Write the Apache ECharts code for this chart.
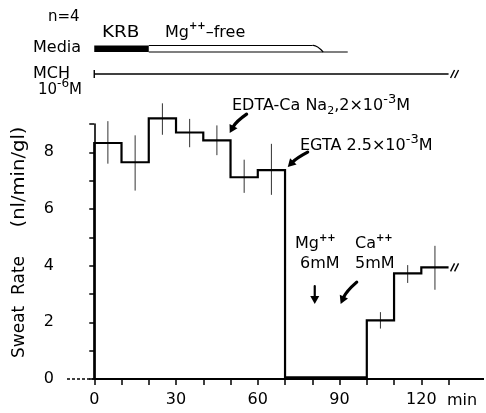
<!DOCTYPE html>
<html>
<head>
<meta charset="utf-8">
<script src="https://cdn.jsdelivr.net/npm/echarts@6/dist/echarts.min.js"></script>
<style>
  html, body { margin: 0; padding: 0; background: #fff; }
  #chart { width: 486px; height: 413px; }
</style>
</head>
<body>
<div id="chart"></div>
<script>
// Sweat rate per 10-min collection period (nl/min/gland), mean with error range
const binEdges  = [0, 10, 20, 30, 40, 50, 60, 70, 100, 110, 120, 130];
const sweatRate = [8.33, 7.65, 9.2, 8.7, 8.42, 7.12, 7.37, 0.06, 2.07, 3.73, 3.94];
const errUpper  = [9.1, 8.6, 9.73, 9.18, 8.95, 7.74, 8.3, null, 2.36, 4.02, 4.7];
const errLower  = [7.6, 6.65, 8.62, 8.18, 7.9, 6.57, 6.5, null, 1.78, 3.39, 3.15];

// Axis ticks and labels
const xTicks      = [0, 10, 20, 30, 40, 50, 60, 70, 80, 90, 100, 110, 120, 130];
const xTickLabels = [0, 30, 60, 90, 120];
const yTicks      = [0, 1, 2, 3, 4, 5, 6, 7, 8, 9];
const yTickLabels = [0, 2, 4, 6, 8];

// Bathing media and drug timeline (min)
const mediaPhases  = ['KRB', 'Mg-free'];
const mediaFrom    = [0, 20];
const mediaTo      = [20, 80];
const mediaWashout = [84, 93];   // end of taper, end of trailing line
const mchSpan      = [0, 130];

const FONT = 'DejaVu Sans';

// Step outline of the collection periods
const stepPoints = [[binEdges[0], 0]];
sweatRate.forEach((v, i) => {
  stepPoints.push([binEdges[i], v], [binEdges[i + 1], v]);
});

// Error bars at the middle of each period
const errData = [];
sweatRate.forEach((v, i) => {
  if (errUpper[i] != null) {
    errData.push([(binEdges[i] + binEdges[i + 1]) / 2, errLower[i], errUpper[i]]);
  }
});

function breakMark(x, y) {
  const children = [];
  for (let k = 0; k < 2; k++) {
    children.push({
      type: 'line',
      shape: { x1: x + 2 + k * 4, y1: y + 4, x2: x + 6 + k * 4, y2: y - 4 },
      style: { stroke: '#000', lineWidth: 1.4 }
    });
  }
  return children;
}

const chart = echarts.init(document.getElementById('chart'), null, { renderer: 'canvas' });

chart.setOption({
  animation: false,
  backgroundColor: '#fff',
  grid: [
    { left: 67, top: 124, width: 417, height: 255, containLabel: false, outerBoundsMode: 'none' },
    { left: 67, top: 49, width: 417, height: 25, containLabel: false, outerBoundsMode: 'none' }
  ],
  xAxis: [
    {
      type: 'value', gridIndex: 0, min: -10, max: 143,
      axisLine: { show: false },
      axisTick: { show: true, length: 6, customValues: xTicks, lineStyle: { color: '#000', width: 1.5 } },
      axisLabel: { customValues: xTickLabels, color: '#000', fontSize: 16, fontFamily: FONT, margin: 13 },
      splitLine: { show: false }
    },
    {
      type: 'value', gridIndex: 1, min: -10, max: 143, show: false
    }
  ],
  yAxis: [
    {
      type: 'value', gridIndex: 0, min: 0, max: 9,
      axisLine: { show: true, lineStyle: { color: '#000', width: 1.6 } },
      axisTick: { show: true, length: 5, customValues: yTicks, lineStyle: { color: '#000', width: 1.5 } },
      axisLabel: { customValues: yTickLabels, color: '#000', fontSize: 16, fontFamily: FONT, margin: 13 },
      splitLine: { show: false }
    },
    {
      type: 'value', gridIndex: 1, min: 0, max: 1, show: false
    }
  ],
  series: [
    // time axis: dotted before the start, solid after
    {
      type: 'line', xAxisIndex: 0, yAxisIndex: 0, clip: false, symbol: 'none', silent: true,
      data: [[-10, 0], [0, 0]],
      lineStyle: { color: '#000', width: 1.5, type: [3, 2] }
    },
    {
      type: 'line', xAxisIndex: 0, yAxisIndex: 0, clip: false, symbol: 'none', silent: true,
      data: [[0, 0], [143, 0]],
      lineStyle: { color: '#000', width: 2 }
    },
    // sweat rate step outline
    {
      type: 'line', xAxisIndex: 0, yAxisIndex: 0, clip: false, symbol: 'none',
      data: stepPoints,
      lineStyle: { color: '#000', width: 2.2, join: 'miter' }
    },
    // error bars
    {
      type: 'custom', xAxisIndex: 0, yAxisIndex: 0, clip: false,
      data: errData,
      renderItem: function (params, api) {
        const lo = api.coord([api.value(0), api.value(1)]);
        const hi = api.coord([api.value(0), api.value(2)]);
        return {
          type: 'line',
          shape: { x1: lo[0], y1: lo[1], x2: hi[0], y2: hi[1] },
          style: { stroke: '#333', lineWidth: 1 }
        };
      }
    },
    // break mark at the end of the record
    {
      type: 'custom', xAxisIndex: 0, yAxisIndex: 0, clip: false,
      data: [[binEdges[binEdges.length - 1], sweatRate[sweatRate.length - 1]]],
      renderItem: function (params, api) {
        const p = api.coord([api.value(0), api.value(1)]);
        return { type: 'group', children: breakMark(p[0], p[1]) };
      }
    },
    // media bar
    {
      type: 'custom', xAxisIndex: 1, yAxisIndex: 1, clip: false,
      data: mediaPhases.map((p, i) => [mediaFrom[i], mediaTo[i], i]),
      renderItem: function (params, api) {
        const a = api.coord([api.value(0), 1]);
        const b = api.coord([api.value(1), 1]);
        const top = a[1] - 3.5, bottom = a[1] + 3;
        if (api.value(2) === 0) {
          return {
            type: 'rect',
            shape: { x: a[0], y: top, width: b[0] - a[0], height: bottom - top },
            style: { fill: '#000' }
          };
        }
        const taper = api.coord([mediaWashout[0], 1])[0];
        const trail = api.coord([mediaWashout[1], 1])[0];
        return {
          type: 'group',
          children: [
            { type: 'line', shape: { x1: a[0], y1: top, x2: b[0], y2: top }, style: { stroke: '#000', lineWidth: 1.2 } },
            { type: 'bezierCurve', shape: { x1: b[0], y1: top, cpx1: b[0] + 4, cpy1: top - 1, x2: taper, y2: bottom }, style: { stroke: '#000', lineWidth: 1.2, fill: null } },
            { type: 'line', shape: { x1: a[0], y1: bottom, x2: trail, y2: bottom }, style: { stroke: '#000', lineWidth: 1.2 } }
          ]
        };
      }
    },
    // MCH application line
    {
      type: 'custom', xAxisIndex: 1, yAxisIndex: 1, clip: false,
      data: [[mchSpan[0], mchSpan[1]]],
      renderItem: function (params, api) {
        const a = api.coord([api.value(0), 0]);
        const b = api.coord([api.value(1), 0]);
        return {
          type: 'group',
          children: [
            { type: 'line', shape: { x1: a[0], y1: a[1], x2: b[0], y2: b[1] }, style: { stroke: '#000', lineWidth: 1.6 } },
            { type: 'line', shape: { x1: a[0], y1: a[1] - 4, x2: a[0], y2: a[1] + 4 }, style: { stroke: '#000', lineWidth: 1.4 } }
          ].concat(breakMark(b[0], b[1]))
        };
      }
    }
  ]
});

// Annotations: arrows anchored in data coordinates
const arrows = [
  { tail: [55.9, 9.35], tip: [49.7, 8.68], bend: 3, width: 3.2 },   // EDTA-Ca Na2
  { tail: [78.3, 8.01], tip: [71.0, 7.48], bend: 2, width: 3.2 },   // EGTA
  { tail: [80.9, 3.28], tip: [80.9, 2.65], bend: 0, width: 2.2 },   // Mg++
  { tail: [96.3, 3.42], tip: [90.4, 2.65], bend: 3, width: 3.2 }    // Ca++
];

function arrowShape(tail, tip, bend, width) {
  const S = chart.convertToPixel({ gridIndex: 0 }, tail);
  const T = chart.convertToPixel({ gridIndex: 0 }, tip);
  const mx = (S[0] + T[0]) / 2, my = (S[1] + T[1]) / 2;
  const dx = T[0] - S[0], dy = T[1] - S[1];
  const len = Math.hypot(dx, dy);
  const nx = -dy / len, ny = dx / len;
  const C = [mx + nx * bend, my + ny * bend];
  let ux = T[0] - C[0], uy = T[1] - C[1];
  const ul = Math.hypot(ux, uy);
  ux /= ul; uy /= ul;
  const headLen = 8, headHalf = 4.5;
  const B = [T[0] - ux * headLen, T[1] - uy * headLen];
  return {
    type: 'group',
    children: [
      {
        type: 'bezierCurve',
        shape: { x1: S[0], y1: S[1], cpx1: C[0], cpy1: C[1], x2: B[0] + ux, y2: B[1] + uy },
        style: { stroke: '#000', lineWidth: width, fill: null, lineCap: 'round' }
      },
      {
        type: 'polygon',
        shape: { points: [T, [B[0] - uy * headHalf, B[1] + ux * headHalf], [B[0] + uy * headHalf, B[1] - ux * headHalf]] },
        style: { fill: '#000' }
      }
    ]
  };
}

// Text with raised / lowered pieces, laid out piece by piece
const measureCtx = document.createElement('canvas').getContext('2d');
function fontSpec(size, bold) { return (bold ? 'bold ' : '') + size + 'px "' + FONT + '"'; }
function textRun(x, y, parts) {
  const children = [];
  let cx = x;
  parts.forEach(p => {
    const [t, size, dy, bold] = p;
    measureCtx.font = fontSpec(size, bold);
    children.push({
      type: 'text', x: cx, y: y + (dy || 0),
      style: {
        text: t, fill: '#000', fontSize: size, fontFamily: FONT,
        fontWeight: bold ? 'bold' : 'normal', verticalAlign: 'middle', align: 'left'
      }
    });
    cx += measureCtx.measureText(t).width;
  });
  return { type: 'group', children: children };
}

chart.setOption({
  graphic: arrows.map(a => arrowShape(a.tail, a.tip, a.bend, a.width)).concat([
    textRun(48, 17, [['n=4', 15]]),
    {
      type: 'text', x: 102, y: 33, scaleX: 1.15,
      style: { text: 'KRB', fill: '#000', fontSize: 16, fontFamily: FONT, verticalAlign: 'middle' }
    },
    textRun(165, 33, [['Mg', 16], ['++', 10, -7, true], ['\u2013free', 16]]),
    textRun(33, 48, [['Media', 16]]),
    textRun(33, 74, [['MCH', 16]]),
    textRun(38, 90, [['10', 15], ['-6', 12, -6], ['M', 15]]),
    textRun(232, 106, [['EDTA-Ca Na', 16], ['2', 11, 5], [',2\u00d710', 16], ['-3', 13, -6], ['M', 16]]),
    textRun(300, 146, [['EGTA 2.5\u00d710', 16], ['-3', 13, -6], ['M', 16]]),
    textRun(295, 244, [['Mg', 16], ['++', 10, -6, true]]),
    textRun(300, 264, [['6mM', 16]]),
    textRun(355, 244, [['Ca', 16], ['++', 10, -6, true]]),
    textRun(355, 264, [['5mM', 16]]),
    textRun(447, 401, [['min', 16]]),
    {
      type: 'text', x: 20, y: 307, rotation: Math.PI / 2,
      style: { text: 'Sweat  Rate', fill: '#000', fontSize: 17, fontFamily: FONT, align: 'center', verticalAlign: 'middle' }
    },
    {
      type: 'text', x: 20, y: 177, rotation: Math.PI / 2, scaleX: 1.15,
      style: { text: '(nl/min/gl)', fill: '#000', fontSize: 17, fontFamily: FONT, align: 'center', verticalAlign: 'middle' }
    }
  ])
});
</script>
</body>
</html>
